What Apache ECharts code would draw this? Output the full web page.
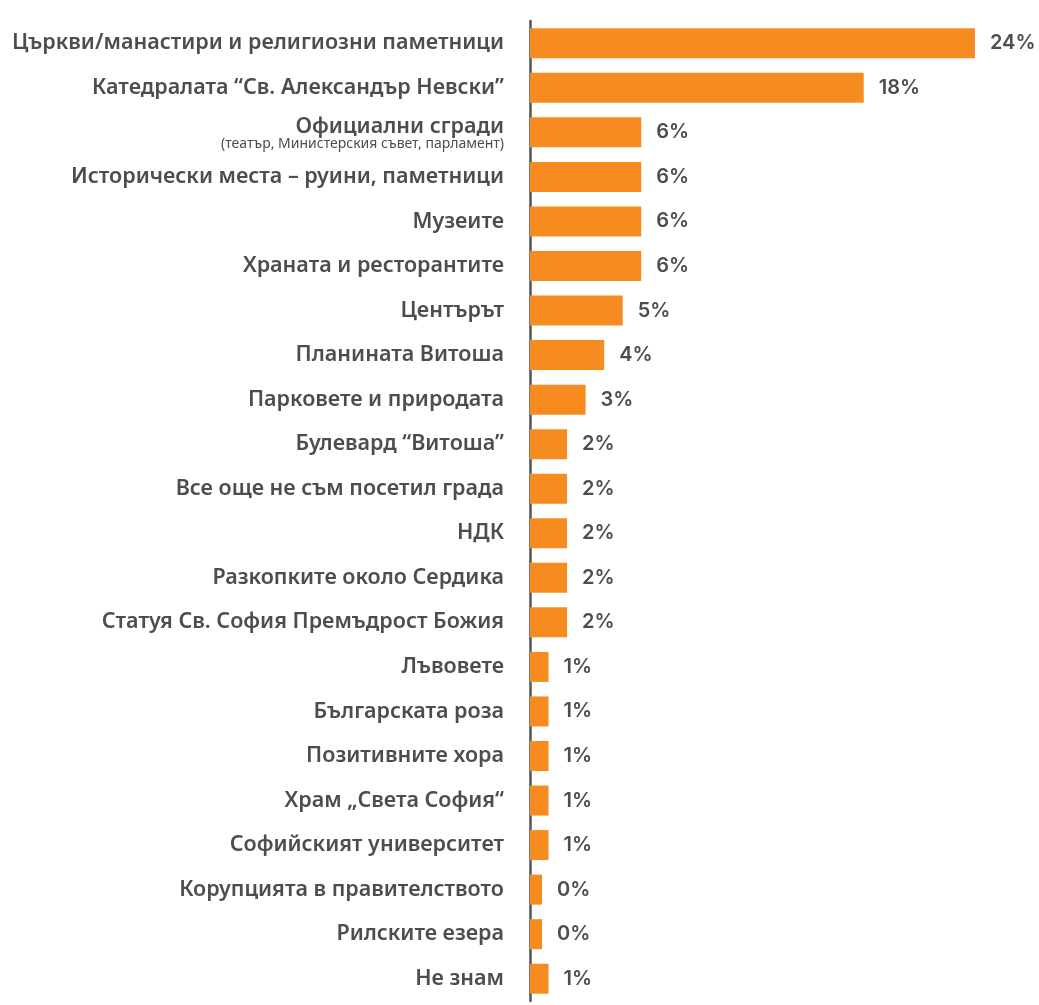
<!DOCTYPE html>
<html lang="bg">
<head>
<meta charset="utf-8">
<title>София – любими места</title>
<script src="https://cdn.jsdelivr.net/npm/echarts@6/dist/echarts.min.js"></script>
<style>
  html, body { margin: 0; padding: 0; background: #ffffff; }
  #chart { width: 1039px; height: 1005px; }
</style>
</head>
<body>
<div id="chart" lang="bg"></div>
<script>
// Categories, top to bottom
const categories = [
  'Църкви/манастири и религиозни паметници',
  'Катедралата “Св. Александър Невски”',
  'Официални сгради',
  'Исторически места – руини, паметници',
  'Музеите',
  'Храната и ресторантите',
  'Центърът',
  'Планината Витоша',
  'Парковете и природата',
  'Булевард “Витоша”',
  'Все още не съм посетил града',
  'НДК',
  'Разкопките около Сердика',
  'Статуя Св. София Премъдрост Божия',
  'Лъвовете',
  'Българската роза',
  'Позитивните хора',
  'Храм „Света София“',
  'Софийският университет',
  'Корупцията в правителството',
  'Рилските езера',
  'Не знам'
];

// Share of answers, %
const shares = [24, 18, 6, 6, 6, 6, 5, 4, 3, 2, 2, 2, 2, 2, 1, 1, 1, 1, 1, 0, 0, 1];

// Second-line notes under some category names
const notes = {
  'Официални сгради': '(театър, Министерския съвет, парламент)'
};

const LABEL_FONT = '"Noto Sans", "DejaVu Sans", sans-serif';
const VALUE_FONT = 'Inter, "Noto Sans", sans-serif';
const TEXT = '#4d4d4d';

const chart = echarts.init(document.getElementById('chart'), null, { renderer: 'canvas' });

chart.setOption({
  animation: false,
  backgroundColor: '#ffffff',
  grid: { left: 530, right: 45.5, top: 21, bottom: 4, containLabel: false },
  xAxis: {
    type: 'value',
    min: 0,
    max: 25,
    show: false
  },
  yAxis: {
    type: 'category',
    data: categories,
    inverse: true,
    axisTick: { show: false },
    axisLine: { show: true, lineStyle: { color: '#555555', width: 2.5 } },
    axisLabel: {
      margin: 26,
      fontFamily: LABEL_FONT,
      fontSize: 21.5,
      fontWeight: 600,
      color: TEXT,
      formatter: function (name) {
        if (notes[name]) {
          return '{main|' + name + '}\n{sub|' + notes[name] + '}';
        }
        return name;
      },
      rich: {
        main: {
          fontFamily: LABEL_FONT, fontSize: 21.5, fontWeight: 600, color: TEXT,
          lineHeight: 24, align: 'right'
        },
        sub: {
          fontFamily: LABEL_FONT, fontSize: 14, fontWeight: 400, color: TEXT,
          lineHeight: 10, align: 'right'
        }
      }
    }
  },
  series: [{
    type: 'bar',
    data: shares,
    barWidth: 30,
    barMinHeight: 12,
    itemStyle: { color: '#F68C20' },
    label: {
      show: true,
      position: 'right',
      distance: 15,
      fontFamily: VALUE_FONT,
      fontSize: 20,
      fontWeight: 600,
      color: TEXT,
      formatter: function (p) { return p.value + '%'; }
    }
  }]
});
</script>
</body>
</html>
